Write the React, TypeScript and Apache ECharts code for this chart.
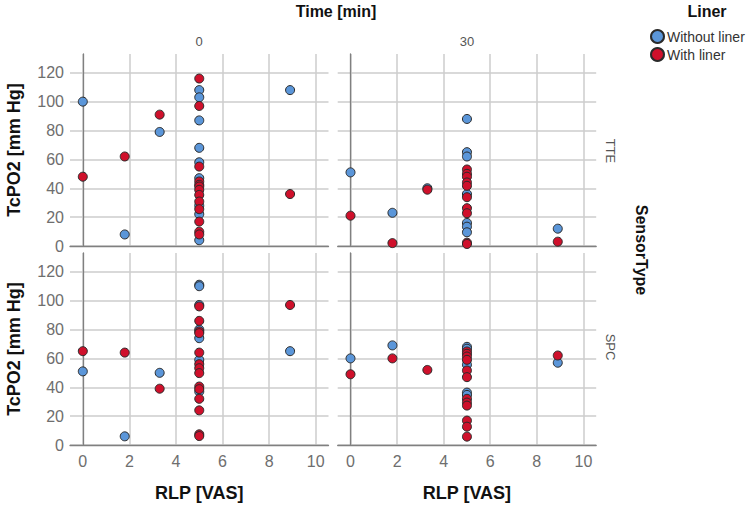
import React, { useEffect, useRef } from "react";
import * as echarts from "echarts";

// ---- Data: [RLP (VAS), TcPO2 (mm Hg)] ----
const xTickValues = [0, 2, 4, 6, 8, 10];
const yTickValues = [0, 20, 40, 60, 80, 100, 120];
const timeLabels = ["0", "30"];
const sensorLabels = ["TTE", "SPC"];
const linerNames = ["Without liner", "With liner"];

const tteT0Without = [[0, 100], [1.8, 8], [3.3, 79], [5, 108], [5, 103], [5, 87], [5, 68], [5, 58], [5, 47], [5, 28], [5, 22], [5, 4], [8.9, 108]];
const tteT0With = [[0, 48], [1.8, 62], [3.3, 91], [5, 116], [5, 97], [5, 55], [5, 44.7], [5, 42.4], [5, 41.2], [5, 38.9], [5, 35.4], [5, 30.8], [5, 25.5], [5, 16.9], [5, 9.9], [5, 8], [8.9, 36]];
const tteT30Without = [[0, 51], [1.8, 23], [3.3, 40], [5, 88], [5, 65], [5, 62], [5, 36], [5, 16], [5, 13.4], [5, 9.5], [8.9, 12]];
const tteT30With = [[0, 21], [1.8, 2], [3.3, 39], [5, 53], [5, 50], [5, 48], [5, 44], [5, 41.7], [5, 33.8], [5, 26.2], [5, 22.7], [5, 2.3], [5, 1.4], [8.9, 3]];
const spcT0Without = [[0, 51], [1.8, 6], [3.3, 50], [5, 111], [5, 110], [5, 97], [5, 80], [5, 74], [5, 59], [5, 37], [8.9, 65]];
const spcT0With = [[0, 65], [1.8, 64], [3.3, 39], [5, 96], [5, 86], [5, 78.7], [5, 77.5], [5, 64], [5, 56], [5, 53.2], [5, 49.8], [5, 40.5], [5, 38.7], [5, 32], [5, 24], [5, 7.4], [5, 6.2], [8.9, 97]];
const spcT30Without = [[0, 60], [1.8, 69], [5, 68], [5, 66.7], [5, 55.6], [5, 36.3], [5, 34.7], [8.9, 57]];
const spcT30With = [[0, 49], [1.8, 60], [3.3, 52], [5, 64.8], [5, 63.2], [5, 61.3], [5, 59], [5, 51.6], [5, 47], [5, 32], [5, 29.4], [5, 27.3], [5, 16.9], [5, 12.7], [5, 5.8], [8.9, 62]];

// panel order: TL (TTE,0), TR (TTE,30), BL (SPC,0), BR (SPC,30)
const panelWithout = [tteT0Without, tteT30Without, spcT0Without, spcT30Without];
const panelWith = [tteT0With, tteT30With, spcT0With, spcT30With];

const FONT = 'Arial, "Liberation Sans", Helvetica, sans-serif';
const BLUE = "#5b96d9";
const RED = "#cf102b";

export default function App() {
  const ref = useRef<HTMLDivElement>(null);
  useEffect(() => {
    if (!ref.current) return;
    const chart = echarts.init(ref.current, undefined, { renderer: "svg" });
    const lefts = [70, 337.7, 70, 337.7];
    const tops = [54, 54, 253, 253];
    const grid = lefts.map((l, i) => ({ left: l, top: tops[i], width: 258.5, height: 192 }));
    const xAxis = grid.map((_, i) => ({
      type: "value",
      gridIndex: i,
      min: -0.55,
      max: 10.55,
      axisLine: { show: true, lineStyle: { color: "#808080", width: 1.3 } },
      axisTick: { show: false, customValues: xTickValues },
      axisLabel: { show: i >= 2, customValues: xTickValues, fontSize: 16, color: "#6e6e6e", margin: 8, fontFamily: FONT },
      splitLine: { show: true, lineStyle: { color: "#cdcdcd", width: 1.5 } },
      name: i >= 2 ? "RLP [VAS]" : "",
      nameLocation: "middle",
      nameGap: 39,
      nameTextStyle: { fontSize: 18, fontWeight: "bold", color: "#111", fontFamily: FONT },
    }));
    const yAxis = grid.map((_, i) => ({
      type: "value",
      gridIndex: i,
      min: 0,
      max: 133,
      axisLine: { show: true, lineStyle: { color: "#808080", width: 1.3 } },
      axisTick: { show: false, customValues: yTickValues },
      axisLabel: { show: i % 2 === 0, customValues: yTickValues, fontSize: 16, color: "#6e6e6e", margin: 6, fontFamily: FONT },
      splitLine: { show: true, lineStyle: { color: "#cdcdcd", width: 1.5 } },
      name: i % 2 === 0 ? "TcPO2 [mm Hg]" : "",
      nameLocation: "middle",
      nameGap: 47,
      nameTextStyle: { fontSize: 18, fontWeight: "bold", color: "#111", fontFamily: FONT },
    }));
    const series: any[] = [];
    for (let i = 0; i < 4; i++) {
      series.push({
        type: "scatter",
        name: linerNames[0],
        xAxisIndex: i,
        yAxisIndex: i,
        data: panelWithout[i],
        symbol: "circle",
        symbolSize: 9,
        itemStyle: { color: BLUE, borderColor: "#2a2a2a", borderWidth: 1, opacity: 1 },
      });
    }
    for (let i = 0; i < 4; i++) {
      series.push({
        type: "scatter",
        name: linerNames[1],
        xAxisIndex: i,
        yAxisIndex: i,
        data: panelWith[i],
        symbol: "circle",
        symbolSize: 9,
        itemStyle: { color: RED, borderColor: "#2a2a2a", borderWidth: 1, opacity: 1 },
      });
    }
    const txt = (text: string, x: number, y: number, size: number, bold: boolean, color: string, rot = 0) => ({
      type: "text",
      x,
      y,
      rotation: rot,
      style: { text, fontSize: size, fontWeight: bold ? "bold" : "normal", fill: color, fontFamily: FONT, align: "center", verticalAlign: "middle" },
    });
    chart.setOption({
      animation: false,
      backgroundColor: "#ffffff",
      grid,
      xAxis,
      yAxis,
      series,
      legend: {
        data: linerNames,
        orient: "vertical",
        left: 650,
        top: 29,
        itemWidth: 13,
        itemHeight: 13,
        itemGap: 3,
        icon: "circle",
        textStyle: { fontSize: 14, color: "#333", fontFamily: FONT, padding: [0, 0, 0, -2] },
        padding: 0,
      },
      graphic: [
        txt("Time [min]", 336, 11, 16, true, "#111"),
        txt(timeLabels[0], 199, 41, 13, false, "#555"),
        txt(timeLabels[1], 467, 41, 13, false, "#555"),
        txt(sensorLabels[0], 610, 151, 13, false, "#555", -Math.PI / 2),
        txt(sensorLabels[1], 610, 347, 13, false, "#555", -Math.PI / 2),
        txt("SensorType", 641, 250, 16, true, "#111", -Math.PI / 2),
        txt("Liner", 707, 11, 16, true, "#111"),
      ],
    });
    return () => chart.dispose();
  }, []);
  return <div ref={ref} style={{ position: "fixed", left: 0, top: 0, width: 756, height: 512 }} />;
}
